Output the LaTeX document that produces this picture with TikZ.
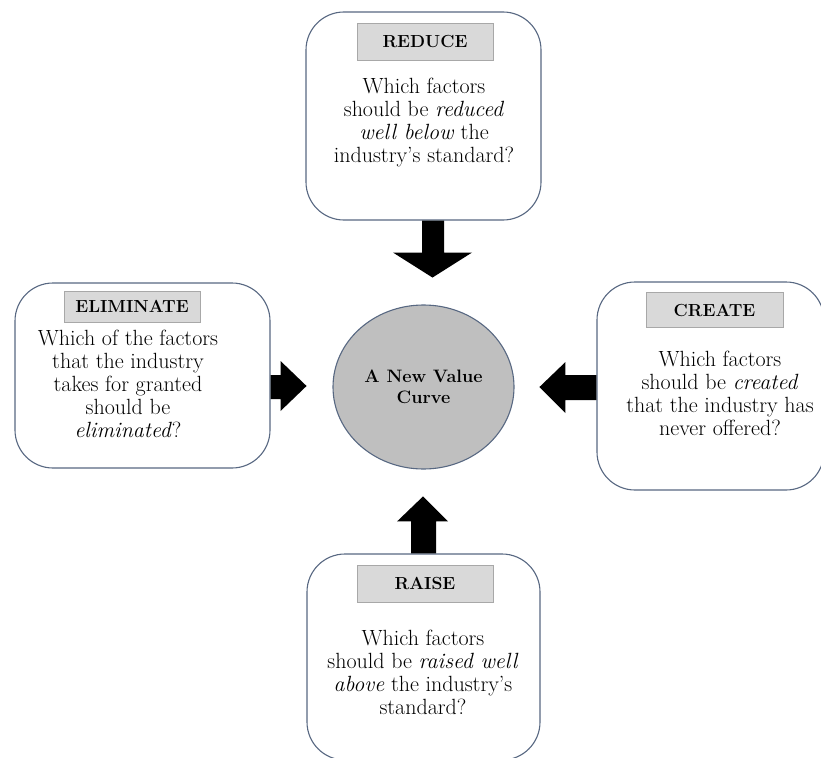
\documentclass[tikz,border=0pt]{standalone}
\usetikzlibrary{calc,shapes.geometric}
\definecolor{boxline}{RGB}{88,104,130}
\definecolor{labfill}{RGB}{217,217,217}
\definecolor{labline}{RGB}{168,168,168}
\definecolor{circfill}{RGB}{191,191,191}
\tikzset{
  box/.style={draw=boxline, line width=1.1pt, rounded corners=38pt, fill=white},
  lab/.style={draw=labline, line width=0.8pt, fill=labfill, minimum width=136pt,
     font=\fontsize{17.5}{20}\selectfont\bfseries, inner sep=0pt},
  body/.style={align=center, font=\fontsize{22}{23}\selectfont, inner sep=0pt},
  blockarrow/.style={fill=black},
}
\begin{document}
\begin{tikzpicture}[x=1pt,y=-1pt]
\useasboundingbox (0,0) rectangle (821,757);
% boxes
\node[box, minimum width=235pt, minimum height=208pt] (R) at (423.5,116) {};
\node[box, minimum width=255pt, minimum height=185pt] (E) at (142.5,375.5) {};
\node[box, minimum width=227pt, minimum height=208pt] (C) at (710.5,386) {};
\node[box, minimum width=233pt, minimum height=206pt] (Ra) at (423.5,657) {};
% centre
\node[ellipse, draw=boxline, line width=1.1pt, fill=circfill, minimum width=181pt,
      minimum height=164pt, inner sep=0pt, align=center,
      font=\fontsize{18}{21}\selectfont\bfseries] (V) at (423.5,387) {A New Value\\Curve};
% labels
\node[lab, minimum height=37pt] (Rl) at (425,41.5) {REDUCE};
\node[lab, minimum height=31pt] (El) at (132,306.5) {ELIMINATE};
\node[lab, minimum height=35pt, minimum width=137pt] (Cl) at (714.5,310) {CREATE};
\node[lab, minimum height=37pt] (Ral) at (425,583.5) {RAISE};
% texts
\node[body] (Rt) at (424,122.5) {Which factors\\should be \textit{reduced}\\\textit{well below} the\\industry's standard?};
\node[body] (Et) at (128,383.5) {Which of the factors\\that the industry\\takes for granted\\should be\\\textit{eliminated}?};
\node[body] (Ct) at (720,393) {Which factors\\should be \textit{created}\\that the industry has\\never offered?};
\node[body] (Rat) at (423,672.5) {Which factors\\should be \textit{raised} \textit{well}\\\textit{above} the industry's\\standard?};
% arrows
\fill[blockarrow] ($(R.south)+(-1.5,0)$) -- ++(0,32) -- ++(-29,0) -- ++(39.5,25)
   -- ++(39.5,-25) -- ++(-28,0) -- ++(0,-32) -- cycle;
\fill[blockarrow] ($(E.east)+(0,-0.5)$) -- ++(10,0) -- ++(0,-14) -- ++(26,25)
   -- ++(-26,25) -- ++(0,-12) -- ++(-10,0) -- cycle;
\fill[blockarrow] ($(C.west)+(0,-11)$) -- ++(-31,0) -- ++(0,-13) -- ++(-26,25)
   -- ++(26,26) -- ++(0,-13) -- ++(31,0) -- cycle;
\fill[blockarrow] ($(Ra.north)+(-12.5,0)$) -- ++(0,-32) -- ++(-14,0) -- ++(26,-25)
   -- ++(25,25) -- ++(-12,0) -- ++(0,32) -- cycle;
\end{tikzpicture}
\end{document}
